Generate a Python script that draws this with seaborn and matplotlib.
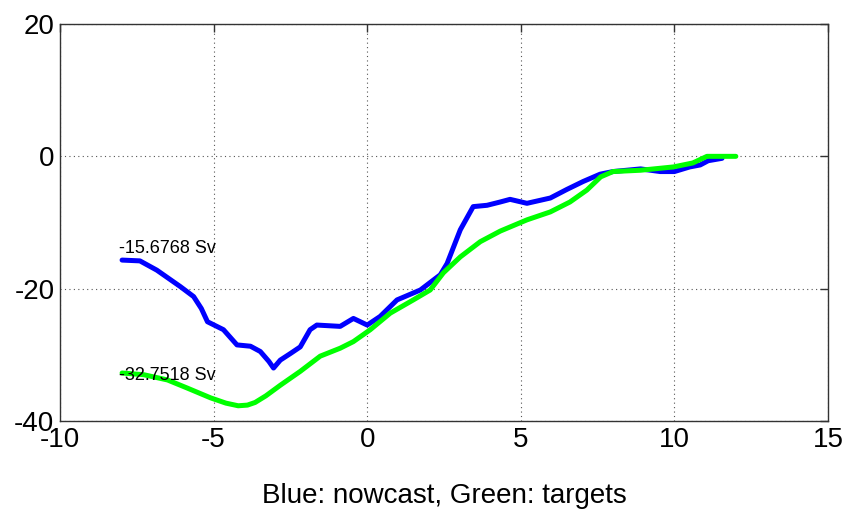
import numpy as np
import pandas as pd
import seaborn as sns
import matplotlib.pyplot as plt
from matplotlib import font_manager

# values
blue_x = [-7.98, -7.4, -6.85, -6.08, -5.65, -5.4, -5.2, -4.68, -4.24, -3.8, -3.48,
          -3.2, -3.05, -2.83, -2.5, -2.18, -1.86, -1.64, -0.88, -0.45, 0.0, 0.42,
          0.97, 1.73, 2.38, 2.6, 3.03, 3.45, 3.9, 4.33, 4.65, 5.2, 5.96, 6.5, 7.03,
          7.58, 8.0, 8.9, 9.54, 10.0, 10.5, 10.84, 11.1, 11.55]
blue_y = [-15.68, -15.8, -17.2, -19.7, -21.2, -23.0, -25.0, -26.2, -28.5, -28.7, -29.5,
          -31.0, -32.0, -30.8, -29.8, -28.8, -26.2, -25.5, -25.7, -24.5, -25.5, -24.2,
          -21.7, -20.2, -17.9, -16.2, -11.1, -7.6, -7.4, -6.9, -6.5, -7.1, -6.3, -5.0, -3.8,
          -2.7, -2.3, -1.9, -2.3, -2.3, -1.6, -1.3, -0.66, -0.3]

green_x = [-7.98, -7.28, -6.5, -5.87, -5.1, -4.6, -4.2, -3.9, -3.65, -3.3, -2.83,
           -2.18, -1.53, -0.88, -0.45, 0.1, 0.75, 1.5, 2.05, 2.48, 3.03, 3.68, 4.33,
           5.2, 5.96, 6.6, 7.15, 7.6, 8.0, 8.9, 9.97, 10.6, 11.06, 12.0]
green_y = [-32.75, -33.0, -33.8, -35.0, -36.5, -37.3, -37.7, -37.6, -37.2, -36.2, -34.6,
           -32.5, -30.2, -29.0, -28.0, -26.2, -23.7, -21.7, -20.2, -17.6, -15.2, -12.9, -11.3,
           -9.6, -8.4, -6.9, -5.1, -3.1, -2.3, -2.1, -1.6, -1.0, 0.0, 0.0]

blue_label = "-15.6768 Sv"
green_label = "-32.7518 Sv"
x_ticks = [-10, -5, 0, 5, 10, 15]
y_ticks = [-40, -20, 0, 20]

sns.set_style("white")
names = {f.name for f in font_manager.fontManager.ttflist}
fam = "Liberation Sans Narrow" if "Liberation Sans Narrow" in names else "Liberation Sans"
plt.rcParams["font.family"] = [fam, "DejaVu Sans"]
plt.rcParams["axes.unicode_minus"] = False

fig = plt.figure(figsize=(8.6, 5.22), dpi=100)
ax = fig.add_axes([0.0698, 0.1935, 0.8930, 0.7605])

nowcast = pd.DataFrame({"x": blue_x, "y": blue_y})
targets = pd.DataFrame({"x": green_x, "y": green_y})
sns.lineplot(data=nowcast, x="x", y="y", color=(0, 0, 1), lw=3.6, sort=False, ax=ax)
sns.lineplot(data=targets, x="x", y="y", color=(0, 1, 0), lw=3.6, sort=False, ax=ax)

ax.text(blue_x[0] - 0.1, blue_y[0] + 0.5, blue_label, fontsize=13, va="bottom",
        ha="left", color="black")
ax.text(green_x[0] - 0.1, green_y[0] - 0.4, green_label, fontsize=13, va="center",
        ha="left", color="black")

ax.set_xlim(-10, 15)
ax.set_ylim(-40, 20)
ax.set_xticks(x_ticks)
ax.set_yticks(y_ticks)
ax.grid(True, linestyle=(0, (1, 3)), color="#555555", lw=0.8)
ax.tick_params(direction="in", length=6, width=1, top=True, right=True,
               labelsize=20, pad=4, labelcolor="black", color="#333333")
for s in ax.spines.values():
    s.set_color("#333333")
    s.set_linewidth(1.0)
ax.set_xlabel("Blue: nowcast, Green: targets", fontsize=20, labelpad=22, color="black")
ax.set_ylabel("")

fig.savefig("out.png", dpi=100)
